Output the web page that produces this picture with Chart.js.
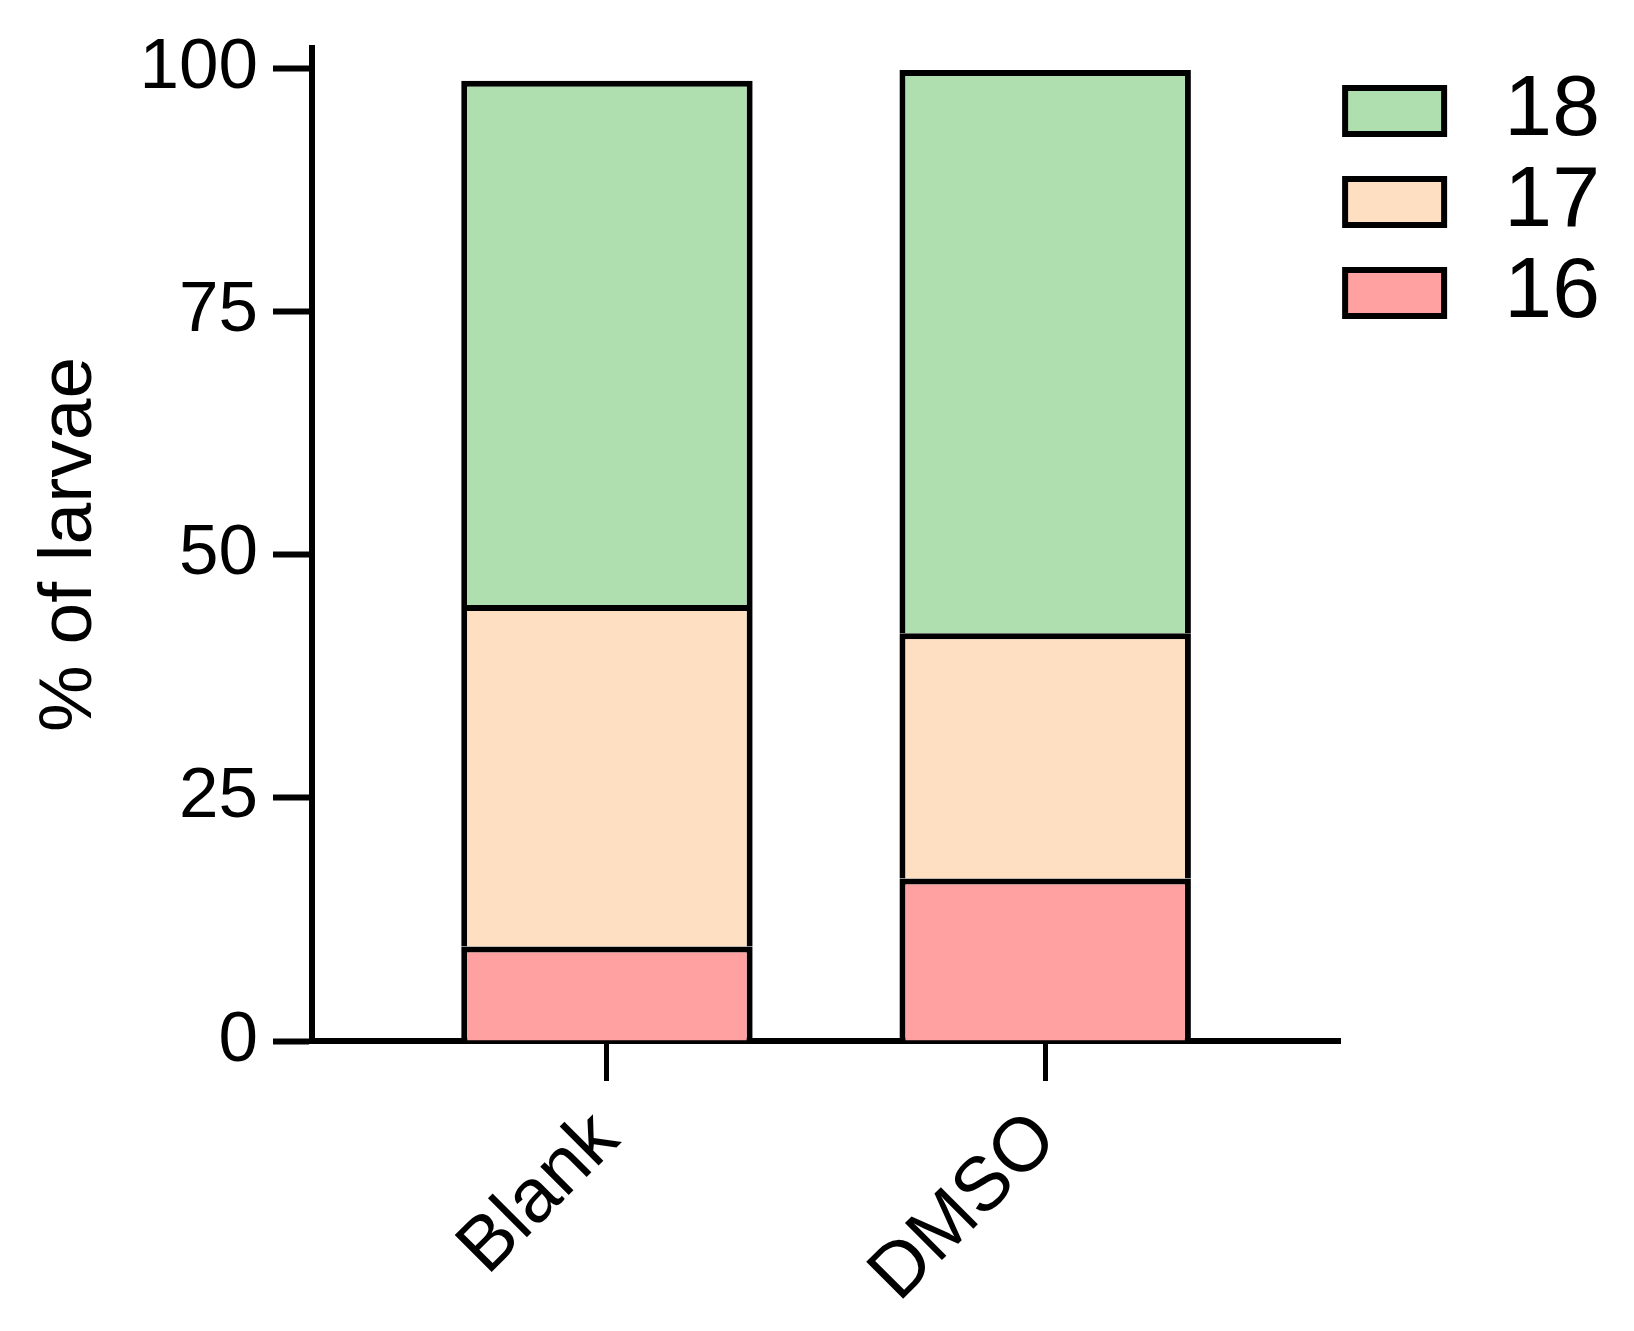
<!DOCTYPE html>
<html lang="en">
<head>
  <meta charset="UTF-8">
  <title>% of larvae</title>
  <style>
    body {
      margin: 0;
      background: #fff;
    }
    #wrap {
      width: 1634px;
      height: 1331px;
    }
  </style>
  <script src="https://cdn.jsdelivr.net/npm/chart.js"></script>
</head>
<body>
  <div id="wrap">
    <canvas id="larvaeChart" width="1634" height="1331"></canvas>
  </div>

  <script>
    // data
    const groups = ['Blank', 'DMSO'];
    const seriesNames = ['16', '17', '18'];
    const pct16 = [9.7, 16.7];
    const pct17 = [35.1, 25.2];
    const pct18 = [53.9, 57.9];
    const yTicks = [0, 25, 50, 75, 100];

    const colors = ['#FEA1A0', '#FFDFC1', '#AFDFAE'];
    const FONT = 'Arial, "Liberation Sans", sans-serif';

    // bars sit on a linear x axis so the gaps match the original
    function toPoints(values) {
      return values.map((v, i) => ({ x: i, y: v }));
    }

    const datasets = [pct16, pct17, pct18].map((vals, i) => ({
      label: seriesNames[i],
      data: toPoints(vals),
      backgroundColor: colors[i],
      borderColor: '#000',
      borderWidth: 6,
      categoryPercentage: 1,
      barPercentage: 0.665
    }));

    new Chart(document.getElementById('larvaeChart').getContext('2d'), {
      type: 'bar',
      data: { datasets: datasets },
      options: {
        responsive: false,
        animation: false,
        devicePixelRatio: 1,
        layout: {
          padding: { top: 48, right: 24, bottom: 0, left: 0 }
        },
        plugins: {
          tooltip: { enabled: false },
          legend: {
            position: 'right',
            align: 'start',
            reverse: true,
            title: {
              display: true,
              text: ' ',
              font: { size: 10 },
              padding: { top: 3, bottom: 0 }
            },
            labels: {
              boxWidth: 99,
              boxHeight: 46,
              padding: 5,
              color: '#000',
              font: { family: FONT, size: 86 },
              generateLabels: function(chart) {
                const items = Chart.defaults.plugins.legend.labels.generateLabels(chart);
                items.forEach(item => { item.text = '\u2009' + item.text; });
                return items;
              }
            }
          }
        },
        scales: {
          x: {
            type: 'linear',
            stacked: true,
            offset: false,
            min: -0.673,
            max: 1.673,
            afterBuildTicks: scale => {
              scale.ticks = groups.map((_, i) => ({ value: i }));
            },
            afterFit: scale => {
              scale.height = 290;
            },
            ticks: {
              minRotation: 45,
              maxRotation: 45,
              padding: 14,
              color: '#000',
              font: { family: FONT, size: 76 },
              callback: value => groups[value]
            },
            grid: {
              offset: false,
              drawOnChartArea: false,
              drawTicks: true,
              tickLength: 40,
              tickWidth: 5,
              color: '#000'
            },
            border: { display: true, color: '#000', width: 6 }
          },
          y: {
            stacked: true,
            min: 0,
            max: 102.06,
            afterBuildTicks: scale => {
              scale.ticks = yTicks.map(v => ({ value: v }));
            },
            afterFit: scale => {
              scale.width = 312;
            },
            ticks: {
              padding: 15,
              color: '#000',
              font: { family: FONT, size: 71, lineHeight: 0.8 }
            },
            grid: {
              drawOnChartArea: false,
              drawTicks: true,
              tickLength: 39,
              tickWidth: 6,
              color: '#000'
            },
            border: { display: true, color: '#000', width: 6 },
            title: {
              display: true,
              text: '% of larvae',
              color: '#000',
              font: { family: FONT, size: 75 },
              padding: { top: 25, bottom: 0 }
            }
          }
        }
      }
    });
  </script>
</body>
</html>
